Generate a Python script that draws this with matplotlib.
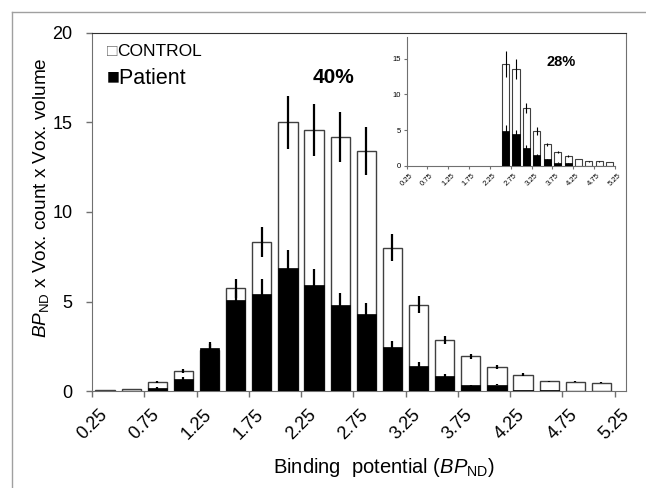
import matplotlib
matplotlib.use("Agg")
import matplotlib.pyplot as plt
from matplotlib.lines import Line2D

plt.rcParams['font.family'] = ['Liberation Sans', 'DejaVu Sans']
plt.rcParams['mathtext.fontset'] = 'custom'
plt.rcParams['mathtext.rm'] = 'Liberation Sans'
plt.rcParams['mathtext.it'] = 'Liberation Sans:italic'

# main histogram (bin centres of BP_ND)
bins = [0.375, 0.625, 0.875, 1.125, 1.375, 1.625, 1.875, 2.125, 2.375, 2.625,
        2.875, 3.125, 3.375, 3.625, 3.875, 4.125, 4.375, 4.625, 4.875, 5.125]
control = [0.05, 0.13, 0.5, 1.1, 2.3, 5.73, 8.32, 15.0, 14.6, 14.2,
           13.4, 8.0, 4.83, 2.83, 1.93, 1.34, 0.92, 0.54, 0.53, 0.46]
control_err = [0, 0, 0.08, 0.12, 0.3, 0.55, 0.83, 1.47, 1.45, 1.4,
               1.35, 0.76, 0.5, 0.22, 0.15, 0.12, 0.07, 0.04, 0.04, 0.03]
patient = [0.01, 0.02, 0.17, 0.67, 2.38, 5.08, 5.44, 6.89, 5.9, 4.79,
           4.28, 2.45, 1.42, 0.86, 0.31, 0.36, 0.03, 0.08, 0.0, 0.0]
patient_err = [0, 0, 0.05, 0.1, 0.35, 0.55, 0.82, 1.0, 0.9, 0.7,
               0.65, 0.33, 0.2, 0.1, 0.05, 0.05, 0, 0, 0, 0]

# inset histogram
ins_bins = [2.625, 2.875, 3.125, 3.375, 3.625, 3.875, 4.125, 4.375, 4.625, 4.875, 5.125]
ins_control = [14.2, 13.5, 8.05, 4.88, 3.02, 1.95, 1.4, 0.98, 0.65, 0.65, 0.56]
ins_control_err = [1.8, 1.4, 0.7, 0.55, 0.2, 0.1, 0.1, 0.05, 0.03, 0.03, 0.03]
ins_patient = [4.88, 4.42, 2.56, 1.53, 0.93, 0.47, 0.37, 0, 0, 0, 0]
ins_patient_err = [0.8, 0.6, 0.35, 0.2, 0.1, 0.05, 0.05, 0, 0, 0, 0]

xticks = [0.25, 0.75, 1.25, 1.75, 2.25, 2.75, 3.25, 3.75, 4.25, 4.75, 5.25]
xticklabels = ['0.25', '0.75', '1.25', '1.75', '2.25', '2.75', '3.25', '3.75', '4.25', '4.75', '5.25']
yticks = [0, 5, 10, 15, 20]
ins_yticks = [0, 5, 10, 15]

spine_col = '#707070'
edge_col = '#404040'

fig = plt.figure(figsize=(6.46, 4.88), dpi=100)

# outer frame
fig.add_artist(Line2D([12/646, 12/646], [0, 1 - 12/488], transform=fig.transFigure, color='#a0a0a0', lw=1))
fig.add_artist(Line2D([12/646, 1], [1 - 12/488, 1 - 12/488], transform=fig.transFigure, color='#a0a0a0', lw=1))

ax = fig.add_axes([92/646, 1 - 391/488, 534/646, 358/488])
ax.bar(bins, control, width=0.185, color='white', edgecolor=edge_col, linewidth=1, zorder=2)
ax.errorbar(bins, control, yerr=control_err, fmt='none', ecolor='black', elinewidth=1.6, capsize=0, zorder=3)
ax.bar(bins, patient, width=0.185, color='black', edgecolor='black', linewidth=0.5, zorder=4)
ax.errorbar(bins, patient, yerr=patient_err, fmt='none', ecolor='black', elinewidth=1.6, capsize=0, zorder=5)

ax.set_xlim(0.25, 5.36)
ax.set_ylim(0, 20)
ax.set_xticks(xticks)
ax.set_xticklabels(xticklabels, rotation=45, ha='center')
ax.set_yticks(yticks)
ax.tick_params(axis='both', direction='out', length=4, width=1, color=spine_col, labelsize=13)
ax.tick_params(axis='x', pad=7)
ax.tick_params(axis='y', pad=10)
for s in ax.spines.values():
    s.set_color(spine_col)
ax.spines['top'].set_color('#303030')

ax.set_ylabel(r'$\mathit{BP}_{\mathrm{ND}}$' + ' x Vox. count x Vox. volume', fontsize=13.7)
ax.yaxis.set_label_coords(-0.077, 0.539)
ax.set_xlabel('Binding  potential (' + r'$\mathit{BP}_{\mathrm{ND}}$' + ')', fontsize=14.5)
ax.xaxis.set_label_coords(0.547, -0.182)

# legend drawn as text: grey open square for control, black square for patient
sq_c = ax.text(0.028, 0.947, '\u25a1', transform=ax.transAxes, fontsize=12.5, va='center', ha='left', color='#707070')
ax.annotate('CONTROL', xy=(1, 0.5), xycoords=sq_c, fontsize=12.5, va='center', ha='left')
ax.text(0.028, 0.872, '\u25a0Patient', transform=ax.transAxes, fontsize=15.5, va='center', ha='left')
ax.text(2.56, 17.5, '40%', fontsize=15, fontweight='bold', ha='center', va='center')

# inset
ins = fig.add_axes([406.5/646, 1 - 166/488, 208.5/646, 129/488])
ins.bar(ins_bins, ins_control, width=0.17, color='white', edgecolor=edge_col, linewidth=0.8, zorder=2)
ins.errorbar(ins_bins, ins_control, yerr=ins_control_err, fmt='none', ecolor='black', elinewidth=0.8, capsize=0, zorder=3)
ins.bar(ins_bins, ins_patient, width=0.17, color='black', edgecolor='black', linewidth=0.5, zorder=4)
ins.errorbar(ins_bins, ins_patient, yerr=ins_patient_err, fmt='none', ecolor='black', elinewidth=0.8, capsize=0, zorder=5)
ins.set_xlim(0.25, 5.25)
ins.set_ylim(0, 18)
ins.set_xticks(xticks)
ins.set_xticklabels(xticklabels, rotation=45, ha='center')
ins.set_yticks(ins_yticks)
ins.tick_params(axis='both', direction='out', length=2, width=0.8, color=spine_col, labelsize=5.5, pad=2)
ins.spines['top'].set_visible(False)
ins.spines['right'].set_visible(False)
ins.spines['left'].set_color(spine_col)
ins.spines['bottom'].set_color(spine_col)
ins.patch.set_alpha(0)
ins.text(3.955, 14.5, '28%', fontsize=10.5, fontweight='bold', ha='center', va='center')

fig.savefig('out.png', dpi=100)
